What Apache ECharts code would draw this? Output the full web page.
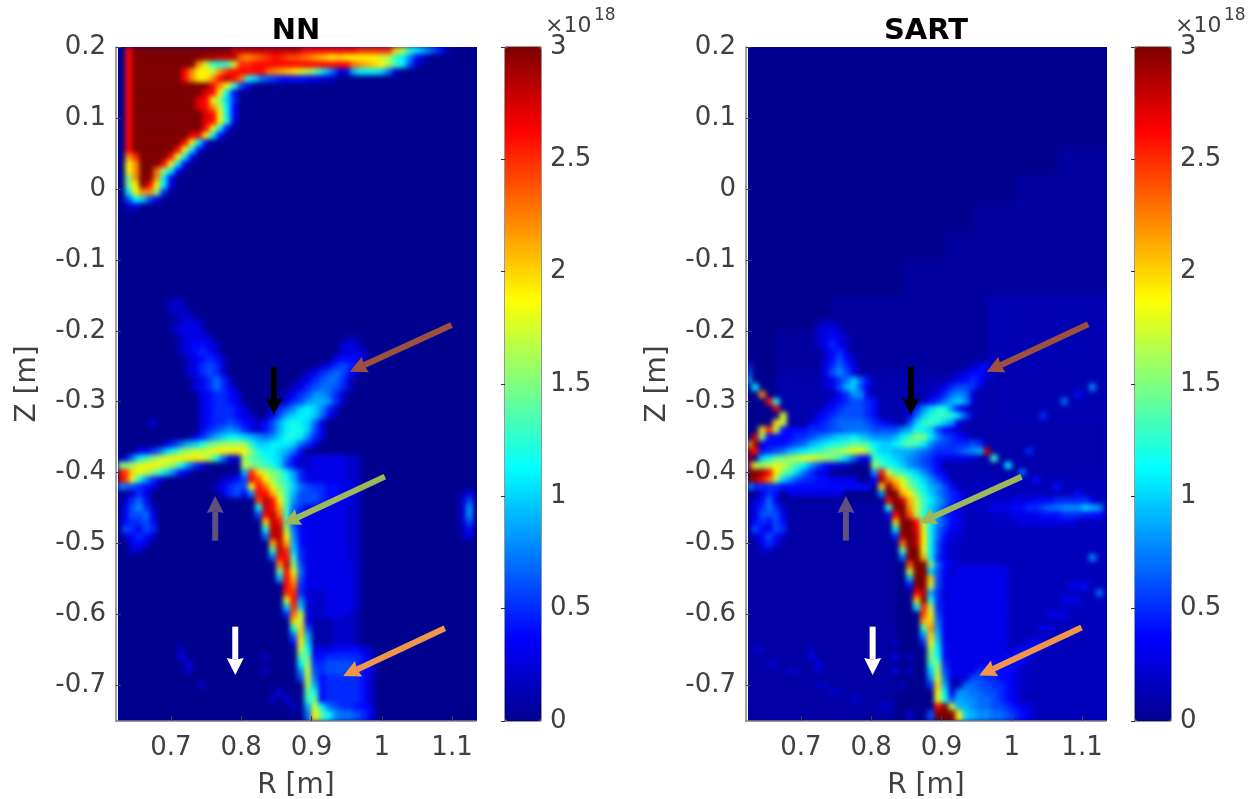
<!DOCTYPE html>
<html><head><meta charset="utf-8">
<style>
html,body{margin:0;padding:0;background:#fff}
#c{position:absolute;left:0;top:0;width:1249px;height:799px;z-index:1}
.bed{position:absolute;top:47px;width:359px;height:674px;background:#00008f}
/* softens the cell grid the way the reference's resampled image is softened; only the heatmap layer is affected */
canvas[data-zr-dom-id="zr_0"]{filter:blur(2.4px);clip-path:path('M118 47H477V721H118Z M748 47H1107V721H748Z')}
</style>
<script src="https://cdn.jsdelivr.net/npm/echarts@6/dist/echarts.min.js"></script></head>
<body><div class="bed" style="left:118px"></div><div class="bed" style="left:748px"></div><div id="c"></div>
<script>
// Readings: 51 columns (R about 0.63 + 0.01*col), 95 rows (Z about 0.195 - 0.01*row).
// Digits are base-32 tenths of the value in units of 1e18: a=1.0, f=1.5, k=2.0, p=2.5, u=3.0
const rTicks = [0.7, 0.8, 0.9, 1, 1.1];
const zTicks = [0.2, 0.1, 0, -0.1, -0.2, -0.3, -0.4, -0.5, -0.6, -0.7];
const barTicks = [0, 0.5, 1, 1.5, 2, 2.5, 3];
const jet = ['#00008f','#0000ff','#007fff','#00ffff','#7fff7f','#ffff00','#ff7f00','#ff0000','#7f0000'];

// [row, col, digits]
const nnTop = [
[0,1,"quuuuuuuuuuuuuussssssssssqqqqqqqqpppppkhdb9752"],
[1,1,"quuuuuuuuuuttsssnmnopqpoonmlkjkjjjjjhhdb842"],
[2,1,"quuuuuuuuumhdcdhppqqqqqqqqqqqqqqnmlkjgdb62"],
[3,1,"quuuuuuuqmjjhmpqqqqqnmlkjhgda7339bbba72"],
[4,1,"quuuuuuuqmjjmqsqnca76544443322"],
[5,1,"quuuuuuuuuuuqmid63"],
[6,1,"quuuuuuuuuurqjb4"],
[7,1,"quuuuuuuuurqjfa5"],
[8,1,"quuuuuuuuurqmhb4"],
[9,1,"quuuuuuuuuurqjb4"],
[10,1,"quuuuuuuuuurqjc3"],
[11,1,"quuuuuuuuuuqjb4"],
[12,1,"quuuuuuuurqjb4"],
[13,1,"quuuuuuuqjb4"],
[14,1,"quuuuuuqjb4"],
[15,1,"mpuuuuqjb4"],
[16,1,"jmuuuqjb4"],
[17,1,"jmuungb4"],
[18,1,"fmuumb4"],
[19,1,"fjuqjb3"],
[20,1,"bjmmf5"],
[21,1,"6ba63"],
[22,1,"23"]
];
// [firstRow, lastRow, col, digits]
const nnDiffuse = [
[58,61,26,"223333322"],[62,64,27,"66544332"],[65,72,26,"333333322"],[73,76,26,"333333332"],
[77,79,27,"22233332"],[80,80,27,"12233321"],[81,84,27,"11112221"],[85,85,28,"233444432"],
[86,92,28,"345555542"],[87,88,28,"456666543"],[93,93,29,"87655443"],[94,94,29,"a9877653"]
];
const nnArms = [
[36,7,"122"],[37,7,"1221"],[38,8,"1221"],[39,8,"12331"],[40,8,"23332"],[41,9,"23332"],[42,9,"234432"],
[43,9,"234542"],[44,10,"234542"],[45,10,"235652"],[46,10,"235652"],[47,11,"235752"],[48,11,"345753"],
[49,12,"345543"],[50,12,"345543"],[51,12,"3455543"],[52,12,"34555432"],[53,12,"345565432"],[53,5,"3"],
[41,33,"11"],[42,32,"232"],[43,32,"2332"],[44,31,"34442"],[45,29,"2356542"],[46,27,"23567642"],
[47,26,"23567752"],[48,25,"235677652"],[49,24,"235688752"],[50,24,"356899852"],[51,22,"3568aba852"],
[52,22,"469abba741"],[53,21,"469bcba73"],[54,20,"2469bcca63"],[54,12,"35678753"],
[55,11,"3579abba9878accb853"],
[56,7,"3579acefggggcaabbba753"],[57,3,"3457acfghhijjjjjfcbba974"],
[58,1,"37bdfhijjjjigc732gedcba74"],[59,0,"ffgijjihfc853"],[59,18,"hfedca64"],
[60,0,"qpkihfda742"],[61,0,"spic853"],[62,0,"876543"],[61,15,"234"],[62,14,"23566"],[63,15,"3564"]
];
const nnRidge = [
[60,18,"9pkhfeb853"],[61,18,"6qojgec953"],[62,19,"jqnifda7655"],[63,19,"8qqlhd96"],[64,20,"osqjd86"],
[65,20,"bsqld75"],[66,20,"6qsnd64"],[67,21,"ksqe64"],[68,21,"cssg74"],[69,21,"7ssj84"],
[70,22,"lsl94"],[71,22,"dspa5"],[72,22,"7qqd5"],[73,23,"msf6"],[74,23,"eqi73"],[75,23,"9ql6"],
[76,24,"qn5"],[77,24,"pp5"],[78,24,"iq83"],[79,24,"apa2"],[80,24,"5nh3"],[81,25,"kh3"],[82,25,"ck6"],
[83,25,"7k9"],[84,25,"4ja"],[85,26,"hc3"],[86,26,"ee4"],[87,26,"bg5"],[88,26,"8h6"],[89,26,"6h7"],
[90,27,"g9"],[91,27,"ec"],[92,27,"de"],[93,27,"9hb"],[94,27,"7jeb"]
];
const nnSpots = [
[63,2,"253"],[64,1,"2574"],[65,1,"36852"],[66,1,"36673"],[67,1,"45564"],[68,1,"65365"],[69,1,"24542"],[70,2,"343"],[71,2,"22"],
[63,49,"13"],[64,49,"26"],[65,49,"28"],[66,49,"28"],[67,49,"26"],[68,49,"14"],[69,49,"13"],
[85,9,"2"],[86,9,"3"],[87,10,"3"],[88,10,"2"],[90,12,"2"],[91,23,"3"],[92,24,"3"],[92,22,"2"],[93,25,"2"],[86,21,"2"],[88,21,"2"]
];

// [firstRow, lastRow, firstCol, lastCol, level in tenths]
const sartHaze = [
[14,17,44,50,0.5],[18,21,38,50,0.5],[22,25,32,50,0.5],[26,29,28,50,0.5],[30,34,22,50,0.5],[35,39,12,50,0.5],
[40,45,4,50,0.5],[46,52,4,50,1],[35,46,34,50,1.2],[47,52,36,50,1.2],[53,60,28,50,1],[61,72,28,50,1.5],[64,94,0,20,0.7],
[73,94,27,50,1.5],[73,88,27,36,3]
];
const sartArms = [
[39,10,"1221"],[40,10,"2332"],[41,10,"23432"],[42,10,"23532"],[43,11,"2453"],[44,11,"24642"],[45,11,"35753"],
[46,11,"36863"],[47,11,"2357a74"],[48,11,"2369a63"],[49,13,"35883"],[50,12,"3456654"],[51,11,"34566654"],[52,10,"345666654"],
[53,9,"3456777765432"],
[45,32,"2342"],[46,30,"23442"],[47,29,"234542"],[48,27,"2356652"],[49,26,"2357872"],[50,25,"24579a83"],
[51,23,"258acc842"],[52,23,"37acddca62"],[53,23,"6addca83"],
[54,3,"34444"],[54,5,"444455566777766665"],[54,22,"89cba6432"],
[55,2,"34444556789aaba98889bdffb86543"],
[56,2,"34445679abccdeedbaabdedb86655565"],
[57,2,"4567"],[57,6,"9abcdefghiig"],[57,18,"caa9998765556789"],
[58,2,"acefghiihgfda743"],[58,18,"dcba98765433332"],
[59,2,"ghihfdb864322"],[59,18,"gdcba87654"],
[60,5,"fda7533"],[60,18,"8qhedba8643"],[61,5,"a8655443333"],
[62,1,"55554444444444444"],[63,6,"33333333"],
[64,35,"222333444555555"],[65,32,"2223334455677888a98"],[66,35,"2223333444555444"],[67,35,"222233333333"]
];
const sartEdge = [
[45,0,"5"],[46,0,"7"],[47,0,"a"],[48,1,"b"],[49,2,"m"],[50,3,"qc"],[51,4,"r"],[52,5,"i"],[53,4,"kh"],[54,2,"kph"],
[55,1,"sf"],[56,0,"jt"],[57,0,"sq"],[58,0,"t"],[59,0,"qh"],[60,0,"uutqj"],[61,0,"utqng"],[62,0,"9"],
[48,49,"8"],[50,45,"7"],[52,42,"5"],[49,47,"4"],[57,40,"5"],[72,49,"8"],[77,50,"7"],[76,48,"4"],
[57,34,"s"],[58,35,"d"],[59,37,"b"],[60,39,"7"],[61,41,"4"],[62,44,"4"],[63,47,"4"],[64,49,"3"]
];
const sartRidge = [
[61,18,"4tnkheca864"],[62,19,"kunjfdb9864"],[63,19,"8uuljfca8654"],[64,20,"quslhdb97543"],[65,20,"cuumhda8643"],
[66,20,"3quohca8543"],[67,21,"kuuqhb86432"],[68,21,"buurib7533"],[69,21,"5tusjb7432"],[70,22,"nusjb6322"],
[71,22,"euuib6322"],[72,22,"7uulb532"],[73,23,"ouuf743"],[74,23,"huua632"],[75,23,"9uuk63"],[76,23,"4uuh63"],
[77,24,"qs952"],[78,24,"kuc5"],[79,24,"bph5"],[80,25,"oi6"],[81,25,"lk7"],[82,25,"dm8"],[83,25,"8k9"],[84,25,"5ja"],
[85,26,"gb4"],[86,26,"fc4"],[87,26,"df5"],[88,26,"ag6"],[89,26,"8i7"],[90,26,"5k9"],[91,27,"jb3"],[92,27,"ic6"],
[93,27,"quh9"],[94,26,"6uuuj"]
];
const sartFan = [
[76,46,"33"],[78,45,"333"],[80,43,"333"],[82,42,"33"],[84,40,"343"],[85,38,"3443"],[86,36,"34443"],[87,35,"44443"],[88,33,"555443"],
[89,32,"665544322"],[90,31,"7766554322"],[91,30,"887766543"],[92,29,"a988776543"],
[93,31,"9877665433"],[94,31,"a988776543"]
];
const sartSpots = [
[63,2,"354"],[64,1,"2473"],[65,1,"35752"],[66,1,"36663"],[67,1,"45464"],[68,1,"64365"],[69,1,"24642"],[70,2,"353"],[71,2,"22"],
[85,1,"22"],[87,3,"22"],[88,6,"22"],[90,10,"22"],[91,12,"22"],[92,15,"22"],[93,19,"22"],[94,23,"2"],
[85,9,"2"],[86,9,"3"],[87,10,"3"],[88,10,"2"],[84,21,"2"],[86,21,"3"],[88,21,"3"],[90,22,"2"],[86,23,"2"],[88,23,"2"]
];

// [tailR, tailZ, headR, headZ]
const nnArrows = [
[1.0993,-0.1918,0.9546,-0.2576],[0.8465,-0.2506,0.8465,-0.3187],[1.0044,-0.4056,0.8597,-0.4727],
[0.763,-0.4958,0.763,-0.4328],[0.7915,-0.617,0.7915,-0.6851],[1.0898,-0.6193,0.9451,-0.6865]
];
const sartArrows = [
[1.1087,-0.1908,0.9642,-0.2576],[0.8565,-0.2506,0.8565,-0.3187],[1.0139,-0.4056,0.8679,-0.4712],
[0.764,-0.4958,0.764,-0.4328],[0.802,-0.617,0.802,-0.6851],[1.0993,-0.6183,0.9536,-0.6858]
];
const arrowColors = ['#9b5040','#000000','#9db85a','#5f5080','#ffffff','#f0964a'];

// Display grid: half-cells, so that each list can sit half a reading-cell over where it was read.
const COLS = 102, ROWS = 190;
const rCats = Array.from({length:COLS},(_,i)=>(0.6275+0.005*i).toFixed(4));
const zCats = Array.from({length:ROWS},(_,i)=>(0.1975-0.005*i).toFixed(4));

function buildCells(hazes, bands, lists, top){
  const g = Array.from({length:ROWS},()=>new Array(COLS).fill(0));
  const put=(r,c,s,off)=>{
    const r0=2*r+off, r1=(r===94)?ROWS-1:r0+1;
    for(let i=0;i<s.length;i++){
      const v=parseInt(s[i],32)/10, c0=2*(c+i)+off;
      for(let y=Math.max(r0,0);y<=r1;y++)for(let x=c0;x<=c0+1;x++) if(x>=0&&x<COLS) g[y][x]=v;
    }
  };
  hazes.forEach(([a,b,c,d,l])=>{for(let r=2*a;r<=2*b+1;r++)for(let k=2*c;k<=2*d+1;k++)g[r][k]=l/10;});
  top.forEach(([r,c,s])=>put(r,c,s,0));
  bands.forEach(([a,b,c,s])=>{for(let r=a;r<=b;r++)put(r,c,s,-1);});
  lists.forEach(L=>L.forEach(([r,c,s])=>put(r,c,s,-1)));
  const out=[];
  for(let r=0;r<ROWS;r++)for(let c=0;c<COLS;c++)out.push([c,r,g[r][c]]);
  return out;
}
const nnData = buildCells([], nnDiffuse, [nnArms,nnRidge,nnSpots], nnTop);
const sartData = buildCells(sartHaze, [], [sartArms,sartFan,sartRidge,sartEdge,sartSpots], []);

const FONT='DejaVu Sans', TXT='#404040', TS=26, NS=28, ZL=1;
const fmt=v=>String(Math.round(v*10)/10);
const arrowRender=(p,api)=>{
  const a=api.coord([api.value(0),api.value(1)]), b=api.coord([api.value(2),api.value(3)]);
  const dx=b[0]-a[0],dy=b[1]-a[1],L=Math.hypot(dx,dy),ux=dx/L,uy=dy/L,nx=-uy,ny=ux,h=17,w=8.5;
  const col=arrowColors[p.dataIndex];
  const base=[b[0]-ux*h,b[1]-uy*h], notch=[b[0]-ux*h*0.9,b[1]-uy*h*0.9];
  return {type:'group',children:[
    {type:'line',shape:{x1:a[0],y1:a[1],x2:notch[0],y2:notch[1]},style:{stroke:col,lineWidth:6}},
    {type:'polygon',shape:{points:[b,[base[0]+nx*w,base[1]+ny*w],notch,[base[0]-nx*w,base[1]-ny*w]]},style:{fill:col}}
  ]};
};

const panels=[
 {dx:0,data:nnData,arrows:nnArrows,title:'NN'},
 {dx:630,data:sartData,arrows:sartArrows,title:'SART'}
];
const grid=[],xAxis=[],yAxis=[],series=[],visualMap=[],title=[];
const OB={outerBoundsMode:'none'};
panels.forEach((p,i)=>{
  const b=i*3;
  grid.push(Object.assign({left:118.3+p.dx,top:47,width:358.4,height:674,zlevel:0,show:true,borderWidth:0,backgroundColor:'#00008f'},OB));
  grid.push(Object.assign({left:116+p.dx,top:47,width:360,height:674,zlevel:ZL},OB));
  grid.push(Object.assign({left:505+p.dx,top:47,width:36,height:674,zlevel:ZL,show:true,borderColor:'#303030',borderWidth:1,backgroundColor:'transparent'},OB));
  xAxis.push({gridIndex:b,type:'category',data:rCats,show:false});
  yAxis.push({gridIndex:b,type:'category',data:zCats,inverse:true,show:false});
  const tick={show:true,inside:true,length:5,lineStyle:{color:TXT,width:1}};
  xAxis.push({gridIndex:b+1,type:'value',min:0.6218,max:1.1341,zlevel:ZL,z:5,splitLine:{show:false},
    name:'R [m]',nameLocation:'middle',nameGap:51,nameTextStyle:{fontFamily:FONT,fontSize:NS,color:TXT},
    axisLine:{show:true,onZero:false,lineStyle:{color:'#808088',width:1.5}},
    axisTick:Object.assign({customValues:rTicks},tick),
    axisLabel:{customValues:rTicks,formatter:fmt,fontFamily:FONT,fontSize:TS,color:TXT,margin:14}});
  yAxis.push({gridIndex:b+1,type:'value',min:-0.75,max:0.2,zlevel:ZL,z:5,splitLine:{show:false},
    name:'Z [m]',nameLocation:'middle',nameGap:74,nameRotate:90,nameTextStyle:{fontFamily:FONT,fontSize:NS,color:TXT},
    axisLine:{show:true,onZero:false,lineStyle:{color:'#808088',width:1.5}},
    axisTick:Object.assign({customValues:zTicks},tick),
    axisLabel:{customValues:zTicks,formatter:fmt,fontFamily:FONT,fontSize:TS,color:TXT,margin:10}});
  xAxis.push({gridIndex:b+2,type:'value',min:0,max:1,show:false});
  yAxis.push({gridIndex:b+2,type:'value',position:'right',min:0,max:3,interval:0.5,zlevel:ZL,z:6,splitLine:{show:false},
    axisLine:{show:false},axisTick:{show:true,inside:true,length:4,lineStyle:{color:'#303030'}},
    axisLabel:{customValues:barTicks,formatter:fmt,fontFamily:FONT,fontSize:TS,color:TXT,margin:9}});
  series.push({type:'heatmap',name:p.title,xAxisIndex:b,yAxisIndex:b,data:p.data,silent:true,progressive:0,zlevel:0,z:2,itemStyle:{borderWidth:0}});
  series.push({type:'custom',name:p.title+' arrows',xAxisIndex:b+1,yAxisIndex:b+1,data:p.arrows,silent:true,clip:false,zlevel:ZL,z:8,
    encode:{x:[0,2],y:[1,3]},renderItem:arrowRender});
  visualMap.push({type:'continuous',seriesIndex:i*2,min:0,max:3,dimension:2,left:505+p.dx,top:47,itemWidth:36,itemHeight:674,zlevel:ZL,
    padding:0,text:[null,null],calculable:false,realtime:false,inRange:{color:jet},hoverLink:false});
  title.push({text:p.title,left:296+p.dx,top:17,textAlign:'center',padding:0,zlevel:ZL,textStyle:{fontFamily:FONT,fontWeight:'bold',fontSize:29,color:'#000'}});
  title.push({text:'×10',left:545+p.dx,top:15,padding:0,zlevel:ZL,textStyle:{fontFamily:FONT,fontWeight:'normal',fontSize:22,color:TXT}});
  title.push({text:'18',left:594+p.dx,top:7,padding:0,zlevel:ZL,textStyle:{fontFamily:FONT,fontWeight:'normal',fontSize:17,color:TXT}});
});
const chart=echarts.init(document.getElementById('c'),null,{renderer:'canvas'});
chart.setOption({animation:false,backgroundColor:'transparent',title,grid,xAxis,yAxis,visualMap,series});
</script></body></html>
